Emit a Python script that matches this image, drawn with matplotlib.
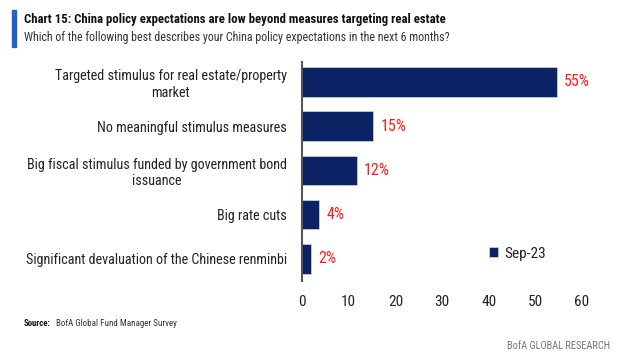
import matplotlib.pyplot as plt
from matplotlib.patches import Rectangle
from matplotlib import font_manager

categories = [
    "Targeted stimulus for real estate/property\nmarket",
    "No meaningful stimulus measures",
    "Big fiscal stimulus funded by government bond\nissuance",
    "Big rate cuts",
    "Significant devaluation of the Chinese renminbi",
]
values = [54.6, 15.3, 11.7, 3.7, 1.9]
value_labels = ["55%", "15%", "12%", "4%", "2%"]
series_name = "Sep-23"
xticks = [0, 10, 20, 30, 40, 50, 60]

# pick a narrow font if one is around
names = {f.name for f in font_manager.fontManager.ttflist}
files = [f.fname for f in font_manager.fontManager.ttflist]
stretch = "normal"
family = "Liberation Sans"
for cand in ["Roboto Condensed", "Liberation Sans Narrow", "Open Sans Condensed", "Arial Narrow"]:
    if cand in names:
        family = cand
        break
else:
    if any("DejaVuSansCondensed" in f for f in files):
        family = "DejaVu Sans"
        stretch = "condensed"
plt.rcParams['font.family'] = [family, 'DejaVu Sans']
plt.rcParams['font.stretch'] = stretch

navy = "#0b2265"
red = "#ff1a1a"
txt = "#222222"

fig = plt.figure(figsize=(6.17, 3.63), dpi=100)
rend = fig.canvas.get_renderer()


def fit(t, width_px):
    # shrink/grow a text so it spans the same width as in the reference
    w = t.get_window_extent(rend).width
    t.set_fontsize(t.get_fontsize() * width_px / w)
    return t


ax = fig.add_axes([0.4895, 0.226, 0.4538, 0.603])

ypos = list(range(len(categories)))
ax.barh(ypos, values, height=0.67, color=navy, edgecolor="#d0d8e8", linewidth=0.5, label=series_name)
vals = []
for y, v, lab in zip(ypos, values, value_labels):
    vals.append(ax.text(v + 1.6, y, lab, color=red, fontsize=11, va="center", ha="left"))
fit(vals[0], 26)
for t in vals[1:]:
    t.set_fontsize(vals[0].get_fontsize())

ax.set_ylim(len(categories) - 0.5, -0.45)
ax.set_xlim(0, 60)
ax.set_yticks(ypos)
ax.set_yticklabels(categories, fontsize=10, color=txt, multialignment="center")
ax.set_xticks(xticks)
ax.set_xticklabels([str(t) for t in xticks], fontsize=11, color=txt)
ax.tick_params(axis="y", length=0, pad=11)
ax.tick_params(axis="x", length=0, pad=10)
for s in ["top", "right", "bottom"]:
    ax.spines[s].set_visible(False)
ax.spines["left"].set_color("#555555")
ax.spines["left"].set_linewidth(1.5)

# size the category labels off the longest one
longest = ax.get_yticklabels()[4]
fit(longest, 262)
ysize = longest.get_fontsize()
for t in ax.get_yticklabels():
    t.set_fontsize(ysize)
for t in ax.get_xticklabels():
    t.set_fontsize(ysize * 1.08)

leg = ax.legend(loc="lower right", bbox_to_anchor=(0.92, 0.03), frameon=False, fontsize=ysize * 1.08,
                handlelength=0.6, handleheight=0.6, handletextpad=0.4, labelcolor=txt)

# title block
fig.patches.append(Rectangle((12 / 617, 1 - 47 / 363), 4 / 617, 37 / 363,
                             transform=fig.transFigure, color="#1f5fd0"))
t1 = fig.text(24 / 617, 1 - 20 / 363, "Chart 15: China policy expectations are low beyond measures targeting real estate",
              fontsize=11, fontweight="bold", color="#111111", va="center")
fit(t1, 418)
t2 = fig.text(24 / 617, 1 - 38 / 363, "Which of the following best describes your China policy expectations in the next 6 months?",
              fontsize=10.5, color="#333333", va="center")
fit(t2, 430)

s1 = fig.text(24 / 617, 1 - 324 / 363, "Source:", fontsize=8, fontweight="bold", color="#111111", va="center")
fit(s1, 27)
s2 = fig.text(56 / 617, 1 - 324 / 363, "BofA Global Fund Manager Survey", fontsize=8, color="#333333", va="center")
fit(s2, 120)
s3 = fig.text(610 / 617, 1 - 346 / 363, "BofA GLOBAL RESEARCH", fontsize=8, color="#777777", va="center", ha="right")
fit(s3, 104)

fig.savefig("out.png", dpi=100)
